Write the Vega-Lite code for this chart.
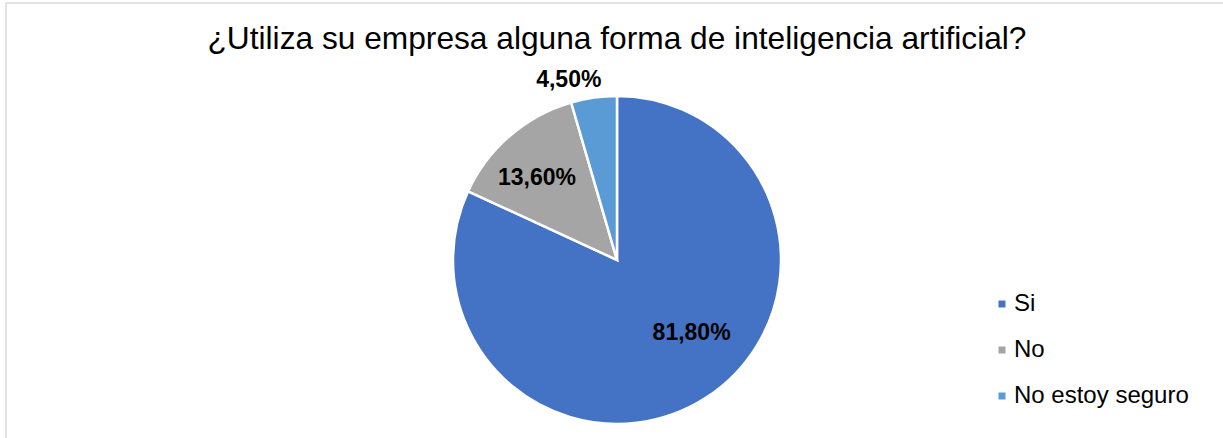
{
  "$schema": "https://vega.github.io/schema/vega-lite/v6.json",
  "width": 1222,
  "height": 514,
  "autosize": {"type": "none"},
  "padding": {"left": 6, "top": 3, "right": 0, "bottom": 0},
  "background": "white",
  "view": {"stroke": "#d9d9d9", "strokeWidth": 1.5},
  "config": {
    "view": {"stroke": "#d9d9d9", "strokeWidth": 1.5},
    "font": "Liberation Sans"
  },
  "title": {
    "text": "¿Utiliza su empresa alguna forma de inteligencia artificial?",
    "font": "Liberation Sans",
    "fontSize": 31.7,
    "fontWeight": "normal",
    "color": "#000000",
    "anchor": "middle",
    "frame": "group",
    "baseline": "alphabetic",
    "offset": -28,
    "dy": 50
  },
  "data": {
    "values": [
      {"respuesta": "Si", "porcentaje": 81.8, "etiqueta": "81,80%", "orden": 1},
      {"respuesta": "No", "porcentaje": 13.6, "etiqueta": "13,60%", "orden": 2},
      {"respuesta": "No estoy seguro", "porcentaje": 4.5, "etiqueta": "4,50%", "orden": 3}
    ]
  },
  "encoding": {
    "theta": {"field": "porcentaje", "type": "quantitative", "stack": true},
    "order": {"field": "orden", "type": "quantitative", "sort": "ascending"}
  },
  "layer": [
    {
      "mark": {"type": "arc", "outerRadius": 164, "stroke": "white", "strokeWidth": 2.5},
      "encoding": {
        "color": {
          "field": "respuesta",
          "type": "nominal",
          "sort": ["Si", "No", "No estoy seguro"],
          "scale": {"domain": ["Si", "No", "No estoy seguro"], "range": ["#4472C4", "#A5A5A5", "#5B9BD5"]},
          "legend": {
            "title": null,
            "orient": "none",
            "legendX": 984,
            "legendY": 289,
            "symbolType": "square",
            "symbolSize": 49,
            "symbolStrokeWidth": 0,
            "labelFont": "Liberation Sans",
            "labelFontSize": 24,
            "labelColor": "#000000",
            "labelOffset": 0,
            "labelLimit": 400,
            "rowPadding": 22,
            "padding": 0
          }
        }
      }
    },
    {
      "mark": {"type": "text", "radius": 105, "dx": 18, "dy": -15, "fontSize": 23, "fontWeight": "bold", "font": "Liberation Sans", "color": "#000000", "align": "center", "baseline": "middle"},
      "encoding": {"text": {"condition": {"test": "datum.respuesta === 'Si'", "field": "etiqueta"}, "value": ""}}
    },
    {
      "mark": {"type": "text", "radius": 115, "dx": -5, "dy": 5, "fontSize": 23, "fontWeight": "bold", "font": "Liberation Sans", "color": "#000000", "align": "center", "baseline": "middle"},
      "encoding": {"text": {"condition": {"test": "datum.respuesta === 'No'", "field": "etiqueta"}, "value": ""}}
    },
    {
      "mark": {"type": "text", "radius": 186, "dx": -22, "dy": 4, "fontSize": 23, "fontWeight": "bold", "font": "Liberation Sans", "color": "#000000", "align": "center", "baseline": "middle"},
      "encoding": {"text": {"condition": {"test": "datum.respuesta === 'No estoy seguro'", "field": "etiqueta"}, "value": ""}}
    }
  ]
}
